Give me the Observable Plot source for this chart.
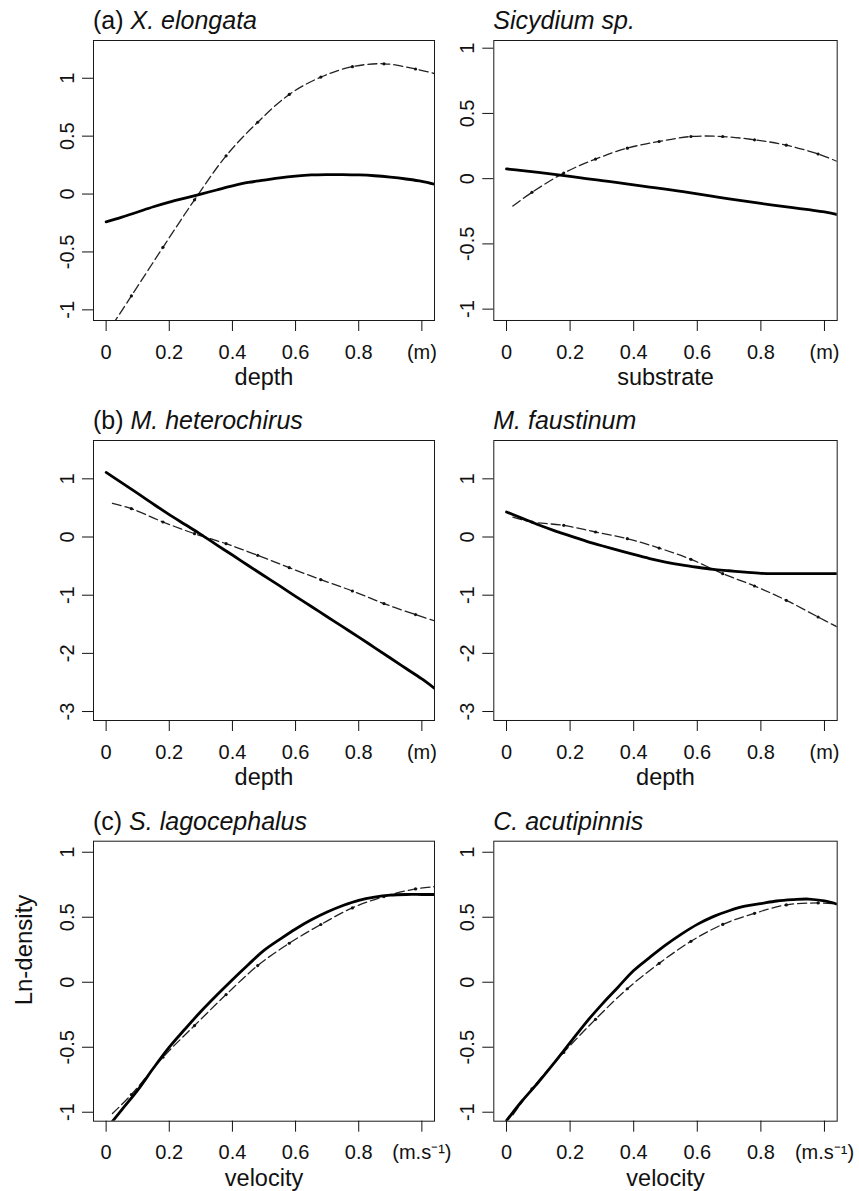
<!DOCTYPE html>
<html><head><meta charset="utf-8">
<script src="https://cdn.jsdelivr.net/npm/d3@7"></script>
<script src="https://cdn.jsdelivr.net/npm/@observablehq/plot@0.6"></script>
<style>
body{margin:0;background:#fff;}
#root{position:relative;width:859px;height:1191px;overflow:hidden;background:#fff;}
#root svg{position:absolute;overflow:visible;background:transparent;}
</style></head><body><div id="root"></div>
<script>
const FONT = '"Liberation Sans", Arial, Helvetica, sans-serif';

// x grids
const gridX = [0, 0.05, 0.1, 0.15, 0.2, 0.25, 0.3, 0.35, 0.4, 0.45, 0.5, 0.55, 0.6, 0.65, 0.7, 0.75, 0.8, 0.85, 0.9, 0.95, 1.0, 1.04];
const dashX = [0.02, 0.08, 0.18, 0.28, 0.38, 0.48, 0.58, 0.68, 0.78, 0.88, 0.98, 1.04];

// x ticks
const xTicks = [0, 0.2, 0.4, 0.6, 0.8, 1];
const xTickLabelsM = ["0", "0.2", "0.4", "0.6", "0.8", "(m)"];
const xTickLabelsV = ["0", "0.2", "0.4", "0.6", "0.8", "(m.s\u207B\u00B9)"];

// y ticks
const yTicksA = [-1, -0.5, 0, 0.5, 1];
const yTicksB = [-3, -2, -1, 0, 1];
const yTicksC = [-1, -0.5, 0, 0.5, 1];

// titles / labels
const panelTags = ["(a)", "", "(b)", "", "(c)", ""];
const panelSpecies = ["X. elongata", "Sicydium sp.", "M. heterochirus", "M. faustinum", "S. lagocephalus", "C. acutipinnis"];
const xLabels = ["depth", "substrate", "depth", "depth", "velocity", "velocity"];
const yLabel = "Ln-density";

// (a) X. elongata
const aLeftSolid = [-0.24, -0.20, -0.155, -0.11, -0.07, -0.035, 0.0, 0.035, 0.07, 0.10, 0.12, 0.14, 0.155, 0.165, 0.168, 0.168, 0.165, 0.158, 0.146, 0.13, 0.11, 0.085];
const aLeftDash = [-1.13, -0.88, -0.46, -0.05, 0.33, 0.62, 0.86, 1.01, 1.10, 1.125, 1.08, 1.04];
// Sicydium sp.
const aRightSolid = [0.075, 0.062, 0.048, 0.033, 0.018, 0.001, -0.015, -0.031, -0.048, -0.064, -0.08, -0.098, -0.117, -0.136, -0.155, -0.173, -0.19, -0.206, -0.222, -0.238, -0.255, -0.275];
const aRightDash = [-0.21, -0.105, 0.043, 0.15, 0.234, 0.285, 0.323, 0.323, 0.298, 0.257, 0.189, 0.132];
// (b) M. heterochirus
const bLeftSolid = [1.11, 0.93, 0.75, 0.565, 0.385, 0.215, 0.045, -0.135, -0.31, -0.49, -0.665, -0.84, -1.02, -1.195, -1.37, -1.545, -1.72, -1.9, -2.08, -2.26, -2.44, -2.6];
const bLeftDash = [0.58, 0.487, 0.258, 0.057, -0.115, -0.315, -0.527, -0.733, -0.928, -1.145, -1.334, -1.44];
// M. faustinum
const bRightSolid = [0.43, 0.32, 0.21, 0.11, 0.02, -0.07, -0.15, -0.225, -0.30, -0.37, -0.43, -0.48, -0.52, -0.555, -0.58, -0.605, -0.625, -0.63, -0.63, -0.63, -0.63, -0.63];
const bRightDash = [0.34, 0.258, 0.20, 0.086, -0.029, -0.19, -0.384, -0.63, -0.842, -1.088, -1.375, -1.546];
// (c) S. lagocephalus
const cLeftSolid = [-1.13, -0.98, -0.83, -0.66, -0.50, -0.36, -0.225, -0.10, 0.02, 0.135, 0.245, 0.33, 0.41, 0.48, 0.54, 0.59, 0.63, 0.655, 0.67, 0.675, 0.675, 0.675];
const cLeftDash = [-1.01, -0.864, -0.577, -0.333, -0.095, 0.128, 0.30, 0.444, 0.572, 0.659, 0.718, 0.735];
// C. acutipinnis
const cRightSolid = [-1.065, -0.91, -0.77, -0.62, -0.465, -0.31, -0.17, -0.04, 0.09, 0.19, 0.285, 0.37, 0.445, 0.505, 0.55, 0.585, 0.605, 0.625, 0.635, 0.64, 0.625, 0.60];
const cRightDash = [-1.02, -0.82, -0.54, -0.285, -0.05, 0.145, 0.315, 0.445, 0.53, 0.595, 0.61, 0.603];

const root = document.getElementById("root");

const cols = [
  {left: 0, ml: 93, fw: 341, mr: 30},
  {left: 430, ml: 63.3, fw: 343.4, mr: 22}
];
const rows = [
  {top: 0, mt: 40, fh: 280, mb: 70, yDomain: [[-1.092, 1.326], [-1.087, 1.059]], yTicks: yTicksA},
  {top: 390, mt: 50, fh: 280, mb: 70, yDomain: [[-3.154, 1.659], [-3.154, 1.659]], yTicks: yTicksB},
  {top: 790, mt: 50.7, fh: 280, mb: 70.3, yDomain: [[-1.069, 1.085], [-1.069, 1.085]], yTicks: yTicksC}
];
const solids = [aLeftSolid, aRightSolid, bLeftSolid, bRightSolid, cLeftSolid, cRightSolid];
const dashes = [aLeftDash, aRightDash, bLeftDash, bRightDash, cLeftDash, cRightDash];

for (let r = 0; r < 3; r++) {
  for (let c = 0; c < 2; c++) {
    const k = r * 2 + c;
    const col = cols[c], row = rows[r];
    const solid = gridX.map((x, i) => ({x, y: solids[k][i]}));
    const dashed = dashX.map((x, i) => ({x, y: dashes[k][i]}));
    const dots = dashed.slice(1, -1);
    const tickLabels = r === 2 ? xTickLabelsV : xTickLabelsM;
    const plot = Plot.plot({
      width: col.ml + col.fw + col.mr,
      height: row.mt + row.fh + row.mb,
      marginLeft: col.ml, marginRight: col.mr, marginTop: row.mt, marginBottom: row.mb,
      x: {domain: [-0.04, 1.04]},
      y: {domain: row.yDomain[c]},
      style: {fontFamily: FONT, background: "transparent", overflow: "visible", color: "#000"},
      marks: [
        Plot.frame({stroke: "#1a1a1a", strokeWidth: 1}),
        Plot.axisX({ticks: xTicks, tickFormat: d => tickLabels[xTicks.indexOf(d)], tickSize: 11, tickPadding: 13, fontSize: 20, label: null, stroke: "#111", fill: "#111"}),
        Plot.axisY({ticks: row.yTicks, tickFormat: d => String(d), tickSize: 11, tickPadding: 9, tickRotate: -90, fontSize: 20, label: null, stroke: "#111", fill: "#111"}),
        Plot.line(dashed, {x: "x", y: "y", stroke: "#222", strokeWidth: 1.3, strokeDasharray: "9,4", curve: "catmull-rom", clip: true}),
        Plot.dot(dots, {x: "x", y: "y", r: 1.6, fill: "#111", stroke: null}),
        Plot.line(solid, {x: "x", y: "y", stroke: "#000", strokeWidth: 2.8, curve: "catmull-rom", clip: true}),
        Plot.text([xLabels[k]], {frameAnchor: "bottom", dy: 64.5, lineAnchor: "bottom", text: d => d, fontSize: 23.5, fill: "#111"})
      ]
    });
    plot.style.left = col.left + "px";
    plot.style.top = row.top + "px";
    const t = d3.select(plot).append("text")
      .attr("x", col.ml).attr("y", row.mt - 11)
      .attr("text-anchor", "start")
      .attr("font-size", 25).attr("font-family", FONT).attr("fill", "#111")
      .style("white-space", "pre");
    if (panelTags[k]) t.append("tspan").text(panelTags[k] + " ");
    t.append("tspan").attr("font-style", "italic").text(panelSpecies[k]);
    if (k === 4) {
      const cy = 950 - row.top;
      d3.select(plot).append("text")
        .attr("transform", `translate(31.5,${cy}) rotate(-90)`)
        .attr("text-anchor", "middle")
        .attr("font-size", 24).attr("font-family", FONT).attr("fill", "#111")
        .text(yLabel);
    }
    root.appendChild(plot);
  }
}
</script>
</body></html>
